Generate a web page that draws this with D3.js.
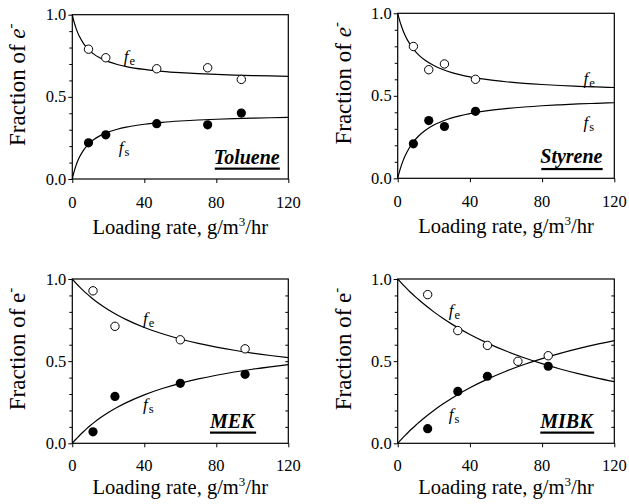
<!DOCTYPE html>
<html><head><meta charset="utf-8">
<script src="https://cdn.jsdelivr.net/npm/d3@7"></script>
</head>
<body style="margin:0">
<svg id="c" width="629" height="504"></svg>
<script>
// ---------- data ----------
const xTicks = [0, 40, 80, 120];
const yTicks = [0.0, 0.5, 1.0];
const yMinorTicks = [0.1, 0.2, 0.3, 0.4, 0.6, 0.7, 0.8, 0.9];
const xTitle = "Loading rate, g/m";
const yTitle = "Fraction of ";

// curve sample loadings (g/m3/hr)
const curveX = [0,0.5,1,2,3,4,6,8,10,12,15,20,25,30,40,50,60,70,80,90,100,110,120];

// Toluene
const tolueneLoad = [9.0, 18.6, 46.9, 75.2, 93.9];
const tolueneFe = [0.790, 0.738, 0.671, 0.677, 0.606];
const tolueneFs = [0.220, 0.269, 0.337, 0.330, 0.401];
const tolueneFeCurve = [1,0.9765,0.9556,0.92,0.8909,0.8667,0.8286,0.8,0.7778,0.76,0.7391,0.7143,0.697,0.6842,0.6667,0.6552,0.6471,0.641,0.6364,0.6327,0.6296,0.6271,0.625];
const tolueneFsCurve = [0,0.0235,0.0444,0.08,0.1091,0.1333,0.1714,0.2,0.2222,0.24,0.2609,0.2857,0.303,0.3158,0.3333,0.3448,0.3529,0.359,0.3636,0.3673,0.3704,0.3729,0.375];

// Styrene
const styreneLoad = [8.7, 17.2, 25.9, 43.1];
const styreneFe = [0.799, 0.658, 0.693, 0.600];
const styreneFs = [0.209, 0.350, 0.314, 0.406];
const styreneFeCurve = [1,0.9787,0.9591,0.9245,0.8948,0.8691,0.8267,0.7933,0.7662,0.7438,0.7167,0.6832,0.659,0.6407,0.6149,0.5975,0.5851,0.5757,0.5684,0.5625,0.5577,0.5536,0.5502];
const styreneFsCurve = [0,0.0217,0.0417,0.0769,0.1071,0.1333,0.1765,0.2105,0.2381,0.2609,0.2885,0.3226,0.3472,0.3659,0.3922,0.4098,0.4225,0.4321,0.4396,0.4455,0.4505,0.4545,0.458];

// MEK
const mekLoad = [11.5, 23.7, 60.0, 96.0];
const mekFe = [0.928, 0.712, 0.630, 0.575];
const mekFs = [0.070, 0.285, 0.365, 0.420];
const mekFeCurve = [1,0.9937,0.9874,0.9753,0.9636,0.9523,0.9309,0.9108,0.8919,0.8742,0.8496,0.8129,0.7809,0.7526,0.7051,0.6667,0.635,0.6084,0.5857,0.5662,0.5492,0.5343,0.5211];
const mekFsCurve = [0,0.0063,0.0126,0.0247,0.0364,0.0477,0.0691,0.0892,0.1081,0.1258,0.1504,0.1871,0.2191,0.2474,0.2949,0.3333,0.365,0.3916,0.4143,0.4338,0.4508,0.4657,0.4789];

// MIBK
const mibkFeLoad = [16.6, 33.3, 49.7, 66.6, 83.4];
const mibkFe = [0.905, 0.686, 0.596, 0.499, 0.533];
const mibkFsLoad = [16.6, 33.3, 49.7, 83.4];
const mibkFs = [0.089, 0.316, 0.408, 0.469];
const mibkFeCurve = [1,0.9939,0.9879,0.976,0.9644,0.9531,0.9311,0.9101,0.8899,0.8705,0.8428,0.8,0.761,0.7253,0.6622,0.6081,0.5614,0.5205,0.4845,0.4525,0.424,0.3982,0.375];
const mibkFsCurve = [0,0.0061,0.0121,0.024,0.0356,0.0469,0.0689,0.0899,0.1101,0.1295,0.1572,0.2,0.239,0.2747,0.3378,0.3919,0.4386,0.4795,0.5155,0.5475,0.576,0.6018,0.625];

// ---------- layout ----------
const FONT = "Liberation Serif";
const panels = [
  {name:"Toluene", box:[72.3,14.7,288.3,179], eItalic:true,
   feX:tolueneLoad, fe:tolueneFe, fsX:tolueneLoad, fs:tolueneFs, feC:tolueneFeCurve, fsC:tolueneFsCurve,
   feLab:[28.6,0.715], fsLab:[25.8,0.159], nameAt:[78.6,0.091], rightTicks:false, tickDy:29, titleDy:55},
  {name:"Styrene", box:[397.7,13.3,614.3,178.3], eItalic:true,
   feX:styreneLoad, fe:styreneFe, fsX:styreneLoad, fs:styreneFs, feC:styreneFeCurve, fsC:styreneFsCurve,
   feLab:[103,0.573], fsLab:[103,0.305], nameAt:[79,0.093], rightTicks:false, tickDy:29, titleDy:55},
  {name:"MEK", box:[72.3,279,288.3,443.3], eItalic:false,
   feX:mekLoad, fe:mekFe, fsX:mekLoad, fs:mekFs, feC:mekFeCurve, fsC:mekFsCurve,
   feLab:[39.3,0.726], fsLab:[39.3,0.2], nameAt:[76.5,0.093], rightTicks:true, tickDy:28, titleDy:50.5},
  {name:"MIBK", box:[397.7,279,614.3,443.3], eItalic:false,
   feX:mibkFeLoad, fe:mibkFe, fsX:mibkFsLoad, fs:mibkFs, feC:mibkFeCurve, fsC:mibkFsCurve,
   feLab:[28.3,0.777], fsLab:[28.3,0.14], nameAt:[79,0.093], rightTicks:true, tickDy:28, titleDy:50.5}
];

const svg = d3.select("#c");
svg.append("rect").attr("width",629).attr("height",504).attr("fill","#fff");

function txt(parent, x, y, size) {
  return parent.append("text").attr("x",x).attr("y",y)
    .attr("font-family",FONT).attr("font-size",size).attr("fill","#000");
}

panels.forEach(p => {
  const [x0,y0,x1,y1] = p.box;
  const x = d3.scaleLinear().domain([0,120]).range([x0,x1]);
  const y = d3.scaleLinear().domain([0,1]).range([y1,y0]);
  const g = svg.append("g");

  const xa = g.append("g").attr("transform",`translate(0,${y1})`)
    .call(d3.axisBottom(x).tickValues(xTicks).tickSize(4).tickFormat(""));
  const ya = g.append("g").attr("transform",`translate(${x0},0)`)
    .call(d3.axisLeft(y).tickValues(yTicks).tickSize(4).tickFormat(""));
  const ym = g.append("g").attr("transform",`translate(${x0},0)`)
    .call(d3.axisLeft(y).tickValues(yMinorTicks).tickSize(3).tickFormat(""));
  const axes = [xa,ya,ym];
  if (p.rightTicks) {
    axes.push(g.append("g").attr("transform",`translate(${x1},0)`)
      .call(d3.axisLeft(y).tickValues(yMinorTicks.concat([0.5])).tickSize(3).tickFormat("")));
  }
  axes.forEach(a=>{
    a.select(".domain").remove();
    a.selectAll("text").remove();
    a.selectAll("line").attr("stroke","#000").attr("stroke-width",1);
  });
  xTicks.forEach(v => txt(g, x(v), y1+p.tickDy, 16.5).attr("text-anchor","middle").text(d3.format("d")(v)));
  yTicks.forEach(v => txt(g, x0-6, y(v)+5.5, 16.5).attr("text-anchor","end").text(d3.format(".1f")(v)));

  g.append("rect").attr("x",x0).attr("y",y0).attr("width",x1-x0).attr("height",y1-y0)
    .attr("fill","none").attr("stroke","#000").attr("stroke-width",1.2);

  const line = d3.line().x((d,i)=>x(curveX[i])).y(d=>y(d)).curve(d3.curveMonotoneX);
  [p.feC,p.fsC].forEach(c=>{
    g.append("path").attr("d",line(c)).attr("fill","none").attr("stroke","#000").attr("stroke-width",1.2);
  });

  g.selectAll(".fe").data(p.fe).enter().append("circle")
    .attr("cx",(d,i)=>x(p.feX[i])).attr("cy",d=>y(d)).attr("r",4.2)
    .attr("fill","#fff").attr("stroke","#000").attr("stroke-width",1);
  g.selectAll(".fs").data(p.fs).enter().append("circle")
    .attr("cx",(d,i)=>x(p.fsX[i])).attr("cy",d=>y(d)).attr("r",4.6)
    .attr("fill","#000");

  [[p.feLab,"e"],[p.fsLab,"s"]].forEach(([pos,sub])=>{
    const t = txt(g, x(pos[0]), y(pos[1]), 17);
    t.append("tspan").attr("font-style","italic").text("f");
    t.append("tspan").attr("dx",1).attr("dy",3).attr("font-size",12.5).text(sub);
  });

  const nt = txt(g, x(p.nameAt[0]), y(p.nameAt[1]), 20)
    .attr("font-weight","bold").attr("font-style","italic").text(p.name);
  const bb = nt.node().getBBox();
  const uy = y(p.nameAt[1]) + (p.name==="Styrene" ? 5 : 3.5);
  g.append("rect").attr("x",bb.x+1).attr("y",uy).attr("width",bb.width-1).attr("height",2.2).attr("fill","#000");

  const xt = txt(g, (x0+x1)/2, y1+p.titleDy, 20.5).attr("text-anchor","middle");
  xt.append("tspan").text(xTitle);
  xt.append("tspan").attr("dy",-8).attr("font-size",13).text("3");
  xt.append("tspan").attr("dy",8).text("/hr");

  const yt = g.append("text").attr("transform",`translate(${x0-47},${y0+70}) rotate(-90)`)
    .attr("text-anchor","middle").attr("font-family",FONT).attr("font-size",23).attr("fill","#000");
  yt.append("tspan").text(yTitle);
  yt.append("tspan").attr("font-style",p.eItalic?"italic":"normal").text("e");
  yt.append("tspan").attr("dy",-10).attr("font-size",15).text("-");
});
</script></body></html>
